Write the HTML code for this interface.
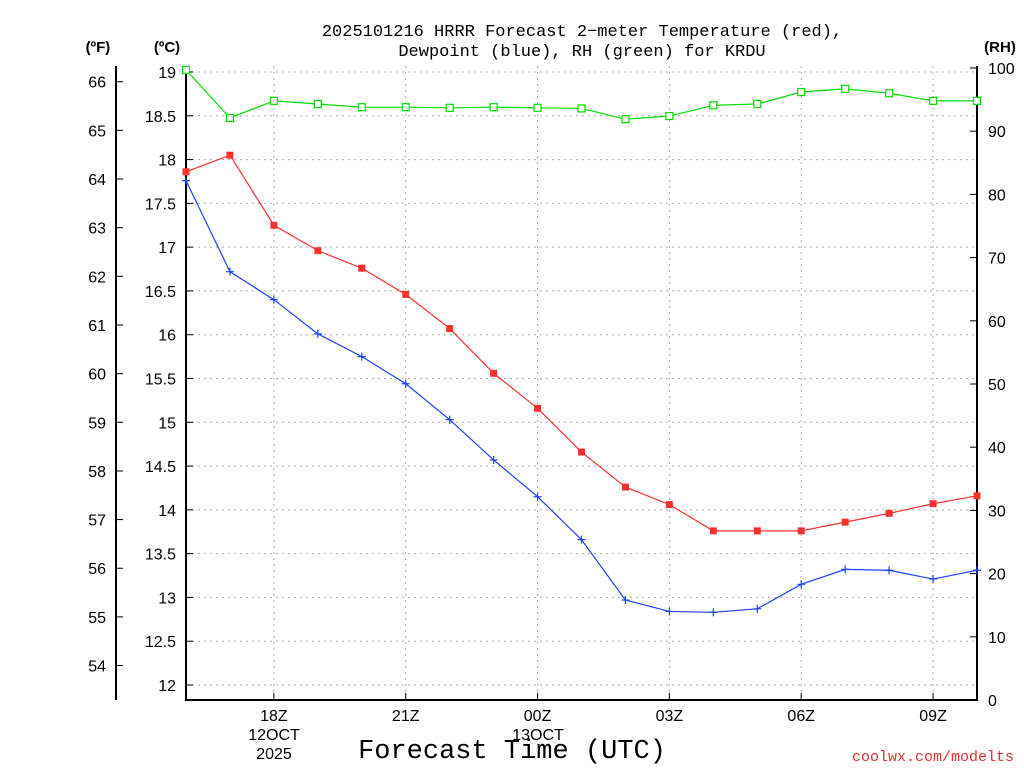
<!DOCTYPE html>
<html><head><meta charset="utf-8"><style>
body{margin:0;background:#fff;}
svg text{font-family:"Liberation Sans","DejaVu Sans",sans-serif;}
svg text.mono{font-family:"Liberation Mono","DejaVu Sans Mono",monospace;}
</style></head><body>
<svg id="chart" width="1024" height="768" xmlns="http://www.w3.org/2000/svg">
<text class="mono" x="582" y="36" font-size="17" text-anchor="middle">2025101216 HRRR Forecast 2−meter Temperature (red),</text>
<text class="mono" x="582" y="56" font-size="17" text-anchor="middle">Dewpoint (blue), RH (green) for KRDU</text>
<text x="98" y="52" font-size="15" font-weight="bold" text-anchor="middle">(ºF)</text>
<text x="167" y="52" font-size="15" font-weight="bold" text-anchor="middle">(ºC)</text>
<text x="1000" y="52" font-size="15" font-weight="bold" text-anchor="middle">(RH)</text>
<text class="mono" x="512" y="758" font-size="27" text-anchor="middle">Forecast Time (UTC)</text>
<text class="mono" x="1014" y="761" font-size="15" fill="#e03030" text-anchor="end">coolwx.com/modelts</text>
<g id="grid"></g><g id="axes"></g><g id="series"></g>
</svg>
<script>
const hours = ["16Z","17Z","18Z","19Z","20Z","21Z","22Z","23Z","00Z","01Z","02Z","03Z","04Z","05Z","06Z","07Z","08Z","09Z","10Z"];
const tempC = [17.86,18.05,17.25,16.96,16.76,16.46,16.07,15.56,15.16,14.66,14.26,14.06,13.76,13.76,13.76,13.86,13.96,14.07,14.16];
const dewC = [17.76,16.72,16.40,16.01,15.75,15.44,15.03,14.57,14.15,13.66,12.97,12.84,12.83,12.87,13.15,13.32,13.31,13.21,13.31];
const rh = [99.7,92.1,94.8,94.3,93.8,93.8,93.7,93.8,93.7,93.6,91.9,92.4,94.1,94.3,96.2,96.7,96.0,94.8,94.8];
const xLabels = ["18Z","21Z","00Z","03Z","06Z","09Z"];
const cTicks = [12,12.5,13,13.5,14,14.5,15,15.5,16,16.5,17,17.5,18,18.5,19];
const fTicks = [54,55,56,57,58,59,60,61,62,63,64,65,66];
const rhTicks = [0,10,20,30,40,50,60,70,80,90,100];

const NS="http://www.w3.org/2000/svg";
const L=186,R=977,T=66,B=700;
const xAt=i=>L+i*(R-L)/(hours.length-1);
const yC=c=>72+(19-c)*(685-72)/7;
const yF=f=>yC((f-32)*5/9);
const yRH=v=>700-v*(700-68)/100;
function mk(tag,attrs,parent,text){const e=document.createElementNS(NS,tag);for(const k in attrs)e.setAttribute(k,attrs[k]);if(text!==undefined)e.textContent=text;document.getElementById(parent).appendChild(e);return e;}

cTicks.forEach(c=>{
  const g=mk('line',{x1:L,x2:R,y1:yC(c),y2:yC(c),stroke:'#aaa','stroke-dasharray':'2,4'},'grid');
  
  
  const t=mk('line',{x1:L,x2:L+7,y1:yC(c),y2:yC(c),stroke:'#000'},'axes');
  
  
  const lb=mk('text',{x:176,y:yC(c)+6,'font-size':16,'text-anchor':'end'},'axes',String(c));
  
  
});
fTicks.forEach(f=>{
  const t=mk('line',{x1:116,x2:123,y1:yF(f),y2:yF(f),stroke:'#000'},'axes');
  
  
  const lb=mk('text',{x:106,y:yF(f)+6,'font-size':16,'text-anchor':'end'},'axes',String(f));
  
  
});
rhTicks.forEach(v=>{
  const t=mk('line',{x1:R-7,x2:R,y1:yRH(v),y2:yRH(v),stroke:'#000'},'axes');
  
  
  const lb=mk('text',{x:988,y:yRH(v)+6,'font-size':16},'axes',String(v));
  
  
});
hours.forEach((h,i)=>{
  const x=xAt(i);
  if(xLabels.includes(h)){
    const t=mk('line',{x1:x,x2:x,y1:B,y2:B-7,stroke:'#000'},'axes');
    
    
    const g=mk('line',{x1:x,x2:x,y1:T,y2:B,stroke:'#aaa','stroke-dasharray':'2,4'},'grid');
    
    
    const lb=mk('text',{x:x,y:721,'font-size':16,'text-anchor':'middle'},'axes',h);
    
    
  }
});
[["12OCT",274,740],["2025",274,759],["13OCT",538,740]].forEach(d=>{
  const lb=mk('text',{x:d[1],y:d[2],'font-size':16,'text-anchor':'middle'},'axes',d[0]);
  
  
});
const fr=mk('path',{d:`M${L},${T}V${B}H${R}V${T}`,fill:'none',stroke:'#000','stroke-width':2},'axes');


const fa=mk('line',{x1:116,x2:116,y1:T,y2:B,stroke:'#000','stroke-width':2},'axes');



function series(vals,yf,color,marker,name){
  const pts=vals.map((v,i)=>xAt(i)+','+yf(v)).join(' ');
  const pl=mk('polyline',{points:pts,fill:'none',stroke:color,'stroke-width':1.2},'series');
  
  
  vals.forEach((v,i)=>{
    const x=xAt(i),y=yf(v);let m;
    if(marker==='sq') m=mk('rect',{x:x-3.5,y:y-3.5,width:7,height:7,fill:color},'series');
    else if(marker==='osq') m=mk('rect',{x:x-3.5,y:y-3.5,width:7,height:7,fill:'#fff',stroke:color,'stroke-width':1.2},'series');
    else m=mk('path',{d:`M${x-4},${y}H${x+4}M${x},${y-4}V${y+4}`,stroke:color,'stroke-width':1.2},'series');
    
    
  });
}
series(rh,yRH,'#00dd00','osq','rh');
series(tempC,yC,'#ff3030','sq','temperature');
series(dewC,yC,'#2040ff','plus','dewpoint');
</script>
</body></html>
